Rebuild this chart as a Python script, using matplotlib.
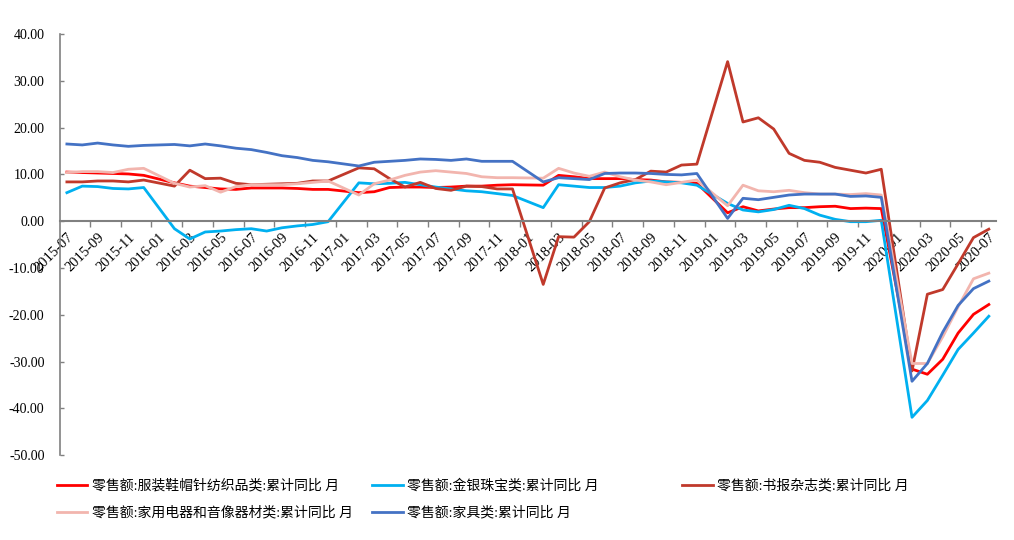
import numpy as np
import pandas as pd
import matplotlib
matplotlib.use("Agg")
import matplotlib.pyplot as plt

# months 2015-07 .. 2020-07; January is not published (Jan-Feb combined) -> NaN
months = pd.date_range("2015-07-01", periods=61, freq="MS").strftime("%Y-%m").tolist()

clothing = [10.5, 10.4, 10.3, 10.2, 10.1, 9.8, np.nan, 8.2, 7.5, 7.2, 6.9, 6.8,
            7.1, 7.1, 7.1, 7.0, 6.8, 6.8, np.nan, 6.1, 6.3, 7.2, 7.3, 7.3,
            7.2, 7.3, 7.5, 7.5, 7.7, 7.8, np.nan, 7.7, 9.8, 9.5, 9.1, 9.1,
            9.1, 8.9, 8.8, 8.4, 8.3, 8.1, np.nan, 1.8, 3.1, 2.2, 2.6, 2.9,
            2.9, 3.1, 3.2, 2.7, 2.8, 2.7, np.nan, -31.6, -32.7, -29.5, -23.9, -19.9,
            -17.8]
gold = [6.1, 7.5, 7.4, 7.0, 6.9, 7.2, np.nan, -1.6, -3.8, -2.3, -2.1, -1.8,
        -1.6, -2.1, -1.4, -1.0, -0.7, -0.1, np.nan, 8.2, 8.0, 8.1, 8.3, 7.8,
        7.3, 6.9, 6.5, 6.3, 5.9, 5.5, np.nan, 2.9, 7.8, 7.5, 7.2, 7.2,
        7.5, 8.2, 8.6, 8.4, 8.2, 7.7, np.nan, 3.8, 2.4, 2.0, 2.5, 3.4,
        2.7, 1.3, 0.4, -0.1, -0.1, 0.2, np.nan, -41.9, -38.3, -32.9, -27.4, -23.9,
        -20.3]
books = [8.4, 8.4, 8.6, 8.6, 8.4, 8.8, np.nan, 7.5, 10.9, 9.1, 9.2, 8.1,
         7.8, 7.9, 8.0, 8.1, 8.6, 8.6, np.nan, 11.4, 11.2, 9.1, 7.3, 8.3,
         7.0, 6.6, 7.5, 7.4, 6.9, 6.9, np.nan, -13.5, -3.3, -3.4, -0.1, 7.1,
         8.2, 8.9, 10.7, 10.5, 12.0, 12.2, np.nan, 34.1, 21.2, 22.1, 19.7, 14.5,
         13.0, 12.6, 11.5, 10.9, 10.3, 11.1, np.nan, -32.0, -15.6, -14.6, -9.1, -3.5,
         -1.7]
appliances = [10.4, 10.6, 10.6, 10.4, 11.1, 11.3, np.nan, 8.1, 7.3, 7.6, 6.2, 7.4,
              7.8, 7.8, 7.8, 8.0, 8.3, 8.6, np.nan, 5.6, 8.0, 8.8, 9.8, 10.5,
              10.8, 10.5, 10.2, 9.5, 9.3, 9.3, np.nan, 9.2, 11.3, 10.3, 9.6, 10.5,
              9.5, 8.8, 8.4, 7.8, 8.3, 8.8, np.nan, 3.3, 7.7, 6.5, 6.3, 6.6,
              6.1, 5.8, 5.8, 5.7, 5.9, 5.6, np.nan, -30.4, -30.4, -24.7, -18.3, -12.3,
              -11.1]
furniture = [16.5, 16.3, 16.7, 16.3, 16.0, 16.2, np.nan, 16.4, 16.1, 16.5, 16.1, 15.6,
             15.3, 14.7, 14.0, 13.6, 13.0, 12.7, np.nan, 11.8, 12.6, 12.8, 13.0, 13.3,
             13.2, 13.0, 13.3, 12.8, 12.8, 12.8, np.nan, 8.4, 9.3, 9.1, 8.9, 10.2,
             10.3, 10.3, 10.2, 10.0, 9.9, 10.2, np.nan, 0.6, 4.9, 4.6, 5.1, 5.6,
             5.8, 5.8, 5.8, 5.3, 5.4, 5.1, np.nan, -34.2, -30.4, -23.7, -18.0, -14.4,
             -12.8]

names = ["零售额:服装鞋帽针纺织品类:累计同比 月",
         "零售额:金银珠宝类:累计同比 月",
         "零售额:书报杂志类:累计同比 月",
         "零售额:家用电器和音像器材类:累计同比 月",
         "零售额:家具类:累计同比 月"]
colors = ["#FF0000", "#00B0F0", "#C0392B", "#F2B5AE", "#4472C4"]

serif = ["Liberation Serif", "Noto Sans CJK SC"]
plt.rcParams["font.family"] = serif

fig = plt.figure(figsize=(10.14, 5.4), dpi=100)
ax = fig.add_axes([0.059, 0.157, 0.923, 0.78])

# spines first: moving a spine resets the ticks
for side in ["top", "right"]:
    ax.spines[side].set_visible(False)
ax.spines["bottom"].set_position(("data", 0))
ax.spines["bottom"].set_color("#808080")
ax.spines["left"].set_color("#808080")
ax.spines["bottom"].set_linewidth(1.5)
ax.spines["left"].set_linewidth(1.2)

x = np.arange(len(months))
handles = []
for vals, name, c in zip([clothing, gold, books, appliances, furniture], names, colors):
    s = pd.Series(vals)
    ok = s.notna().values
    h, = ax.plot(x[ok], s[ok].values, color=c, lw=2.0, label=name)
    handles.append(h)

ax.set_xlim(-0.46, 60.45)
ax.set_ylim(-50, 40)

ax.tick_params(axis="x", which="major", length=0, pad=7)
ax.tick_params(axis="x", which="minor", length=4, direction="out", color="#808080", width=1)
ax.tick_params(axis="y", length=3, direction="in", color="#808080", width=1, pad=11)

ax.set_yticks(np.arange(-50, 41, 10))
ax.set_yticklabels(["%.2f" % v for v in np.arange(-50, 41, 10)], fontsize=10)

ax.set_xticks(x[::2])
ax.set_xticks(np.arange(1.5, 60, 2), minor=True)
ax.set_xticklabels(months[::2], fontsize=10.5, rotation=45, ha="right", va="top",
                   rotation_mode="anchor")

# legend laid out in three columns like the original
leg_kw = dict(frameon=False, fontsize=10, handlelength=2.2, handletextpad=0.3,
              labelspacing=0.95, borderpad=0, borderaxespad=0, loc="upper left")
fig.legend([handles[0], handles[3]], [names[0], names[3]],
           bbox_to_anchor=(0.056, 0.113), **leg_kw)
fig.legend([handles[1], handles[4]], [names[1], names[4]],
           bbox_to_anchor=(0.367, 0.113), **leg_kw)
fig.legend([handles[2]], [names[2]],
           bbox_to_anchor=(0.673, 0.113), **leg_kw)

plt.savefig("out.png", dpi=100)
